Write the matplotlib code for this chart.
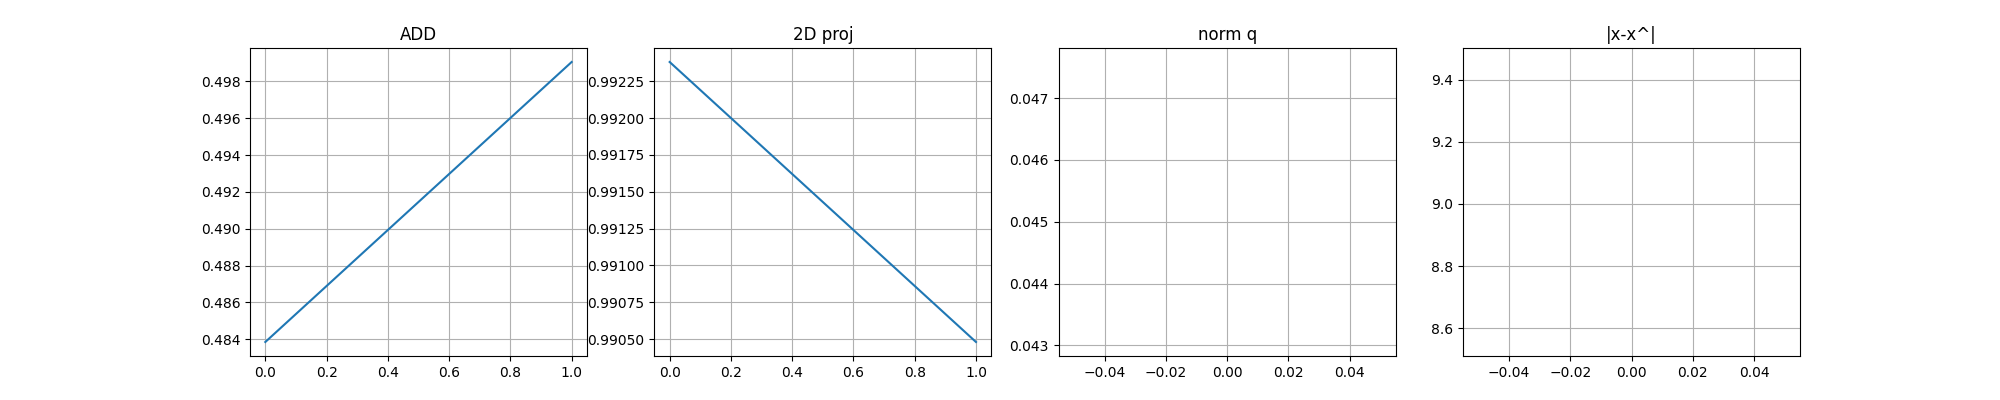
import matplotlib
matplotlib.use("Agg")
import matplotlib.pyplot as plt

titles = ["ADD", "2D proj", "norm q", "|x-x^|"]
add_vals = [0.48385, 0.49905]
proj_vals = [0.99238, 0.99048]
normq_vals = [0.04532]
xdiff_vals = [9.006]

series = [add_vals, proj_vals, normq_vals, xdiff_vals]

fig, axes = plt.subplots(1, 4, figsize=(20, 4), dpi=100)
for ax, title, vals in zip(axes, titles, series):
    ax.plot(range(len(vals)), vals)
    ax.set_title(title)
    ax.grid(True)

plt.savefig("out.png")
